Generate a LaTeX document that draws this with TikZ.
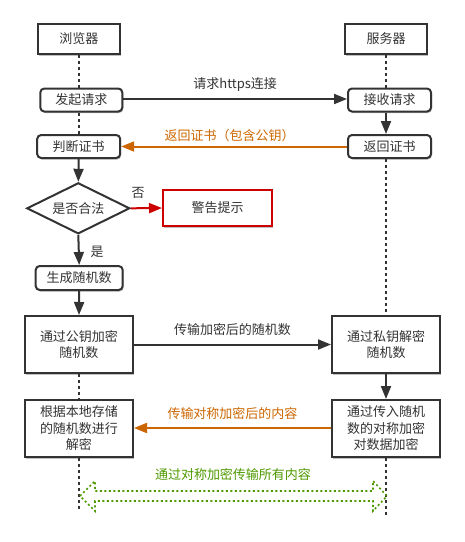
\documentclass[tikz,border=0pt]{standalone}
\usepackage{fontspec}
\setmainfont{Noto Sans CJK SC}
\usetikzlibrary{arrows.meta,shapes.geometric,shadows}
\definecolor{ink}{HTML}{333333}
\definecolor{orng}{HTML}{CC6600}
\definecolor{redc}{HTML}{CC0000}
\definecolor{grn}{HTML}{4D9900}
\begin{document}
\begin{tikzpicture}[x=1pt,y=-1pt,
  font=\fontsize{13}{16.5}\selectfont,
  box/.style={draw=ink, line width=2pt, fill=white, inner sep=0pt, text=ink, align=center,
    drop shadow={shadow xshift=1pt, shadow yshift=-1.5pt, opacity=0.25, fill=black}},
  rbox/.style={box, rounded corners=4pt},
  lbl/.style={text=ink, inner sep=1pt},
  conn/.style={draw=ink, line width=2pt, -{Triangle[length=13pt,width=10pt]}},
  life/.style={draw=ink, line width=2pt, dash pattern=on 3pt off 3pt},
]
\useasboundingbox (0,0) rectangle (465,542);
% browser side
\node[box, minimum width=82pt, minimum height=30pt] (b1) at (79,39) {浏览器};
\node[box, minimum width=82pt, minimum height=30pt] (s1) at (386,39) {服务器};
\node[rbox, minimum width=82pt, minimum height=23pt] (b2) at (81.3,100) {发起请求};
\node[rbox, minimum width=83pt, minimum height=23pt] (s2) at (389.5,100) {接收请求};
\node[rbox, minimum width=83pt, minimum height=23pt] (b3) at (78.7,146.5) {判断证书};
\node[rbox, minimum width=83pt, minimum height=23pt] (s3) at (389.5,146.5) {返回证书};
\node[draw=ink, line width=2pt, diamond, aspect=2, inner sep=0pt, minimum width=103pt, minimum height=51pt, fill=white, text=ink] (dia) at (78.3,208.3) {是否合法};
\node[box, draw=redc, minimum width=109pt, minimum height=36pt] (warn) at (217.5,208) {警告提示};
\node[rbox, minimum width=87pt, minimum height=24pt] (b4) at (79.2,278) {生成随机数};
\node[box, minimum width=108pt, minimum height=57pt] (b5) at (79,344.5) {通过公钥加密\\随机数};
\node[box, minimum width=108pt, minimum height=57pt] (s5) at (386,344.5) {通过私钥解密\\随机数};
\node[box, minimum width=108pt, minimum height=57pt] (b6) at (79,428.5) {根据本地存储\\的随机数进行\\解密};
\node[box, minimum width=108pt, minimum height=57pt] (s6) at (386,428.5) {通过传入随机\\数的对称加密\\对数据加密};
\coordinate (lend) at (79,511);
\coordinate (rend) at (386,517);
% lifelines
\draw[life] (b1.south) -- (b1.south |- b2.north);
\draw[life] (b1.south |- b2.south) -- (b1.south |- b3.north);
\draw[life] (s1.south) -- (s1.south |- s2.north);
\draw[life] (s5.north |- s3.south) -- (s5.north);
\draw[life] (b5.south) -- (b6.north);
\draw[life] (b6.south) -- (lend);
\draw[life] (s6.south) -- (rend);
% connectors
\draw[conn] (b2.east |- 0,99) -- (s2.west |- 0,99) node[lbl, midway, above=6pt] {请求https连接};
\draw[conn] (s1.south |- s2.south) -- (s1.south |- s3.north);
\draw[conn, draw=orng, fill=orng] (s3.west) -- (b3.east) node[lbl, text=orng, pos=0.52, above=3pt] {返回证书（包含公钥）};
\draw[conn] (b3.south) -- (dia.north);
\draw[conn, draw=redc, fill=redc] (dia.east) -- (warn.west);
\node[lbl] (no) at (138,193) {否};
\draw[conn] (dia.south) -- (b4.north);
\node[lbl] (yes) at (97,252) {是};
\draw[conn] (b4.south) -- (b5.north);
\draw[conn] (b5.east) -- (s5.west) node[lbl, midway, above=7pt] {传输加密后的随机数};
\draw[conn] (s5.south) -- (s6.north);
\draw[conn, draw=orng, fill=orng] (s6.west |- 0,428) -- (b6.east |- 0,428) node[lbl, text=orng, midway, above=6pt] {传输对称加密后的内容};
% green flex arrow
\coordinate (gl) at (80,496);
\coordinate (gr) at (387,496);
\draw[grn, line width=1.6pt, dash pattern=on 2pt off 2.5pt]
  (gl) -- (95,481) -- (95,491) -- (373,491) -- (373,481) -- (gr)
  -- (373,511) -- (373,501) -- (95,501) -- (95,511) -- cycle;
\node[lbl, text=grn] (gtxt) at (233,475) {通过对称加密传输所有内容};
\end{tikzpicture}
\end{document}
